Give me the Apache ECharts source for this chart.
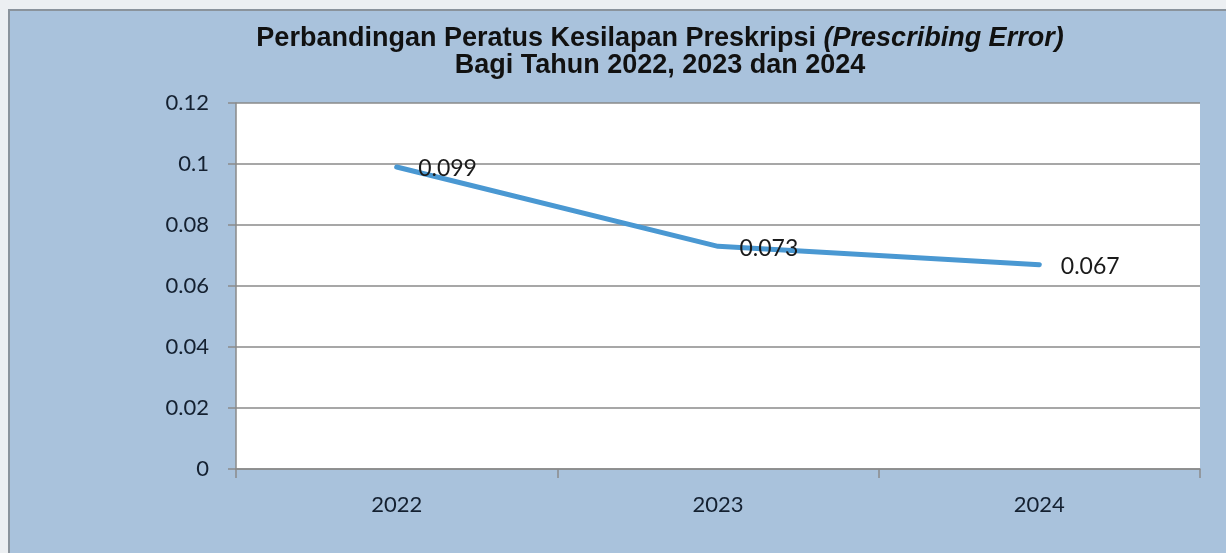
<!DOCTYPE html>
<html>
<head>
<meta charset="utf-8">
<script src="https://cdn.jsdelivr.net/npm/echarts@6/dist/echarts.min.js"></script>
<style>
  body { margin: 0; background: #eceff2; overflow: hidden; }
  #main { position: absolute; left: 8px; top: 9px; width: 1216px; height: 542px;
          border-left: 2px solid #8a939c; border-top: 2px solid #8a939c; }
</style>
</head>
<body>
<div id="main"></div>
<script>
var years = ['2022', '2023', '2024'];
var errorRates = [0.099, 0.073, 0.067];
var yTicks = [0, 0.02, 0.04, 0.06, 0.08, 0.1, 0.12];

var myChart = echarts.init(document.getElementById('main'));

var option = {
    backgroundColor: '#a9c2dc',
    title: {
        text: '{a|Perbandingan Peratus Kesilapan Preskripsi }{b|(Prescribing Error)}\n{a|Bagi Tahun 2022, 2023 dan 2024}',
        left: 645,
        top: 9,
        textAlign: 'center',
        textStyle: {
            rich: {
                a: { fontFamily: 'Liberation Sans', fontWeight: 'bold', fontSize: 27, color: '#111', lineHeight: 27 },
                b: { fontFamily: 'Liberation Sans', fontWeight: 'bold', fontStyle: 'italic', fontSize: 27, color: '#111', lineHeight: 27 }
            }
        }
    },
    grid: {
        left: 226, top: 92, right: 26, bottom: 84,
        show: true, backgroundColor: '#ffffff', borderWidth: 0
    },
    xAxis: {
        type: 'category',
        data: years,
        boundaryGap: true,
        axisLine: { lineStyle: { color: '#8a8a8a', width: 1.5 } },
        axisTick: { show: true, interval: 0, length: 9, lineStyle: { color: '#8a8a8a', width: 1.5 } },
        axisLabel: { margin: 25, fontFamily: 'Lato', fontSize: 22, color: '#142030' }
    },
    yAxis: {
        type: 'value',
        min: yTicks[0],
        max: yTicks[yTicks.length - 1],
        interval: 0.02,
        axisLine: { show: true, lineStyle: { color: '#8a8a8a', width: 1.5 } },
        axisTick: { show: true, length: 8, lineStyle: { color: '#8a8a8a', width: 1.5 } },
        splitLine: { lineStyle: { color: '#8a8a8a', width: 1.5 } },
        axisLabel: {
            margin: 27, fontFamily: 'Lato', fontSize: 22, color: '#142030',
            formatter: function (v) { return String(+v.toFixed(2)); }
        }
    },
    series: [{
        type: 'line',
        data: errorRates,
        showSymbol: true,
        symbol: 'circle',
        symbolSize: 1,
        itemStyle: { color: '#4a98d2' },
        lineStyle: { color: '#4a98d2', width: 5, cap: 'round' },
        label: {
            show: true,
            position: 'right',
            distance: 21,
            offset: [0, 2],
            fontFamily: 'Lato',
            fontSize: 23,
            color: '#1a1a1a'
        },
        silent: true
    }]
};

myChart.setOption(option);
</script>
</body>
</html>
